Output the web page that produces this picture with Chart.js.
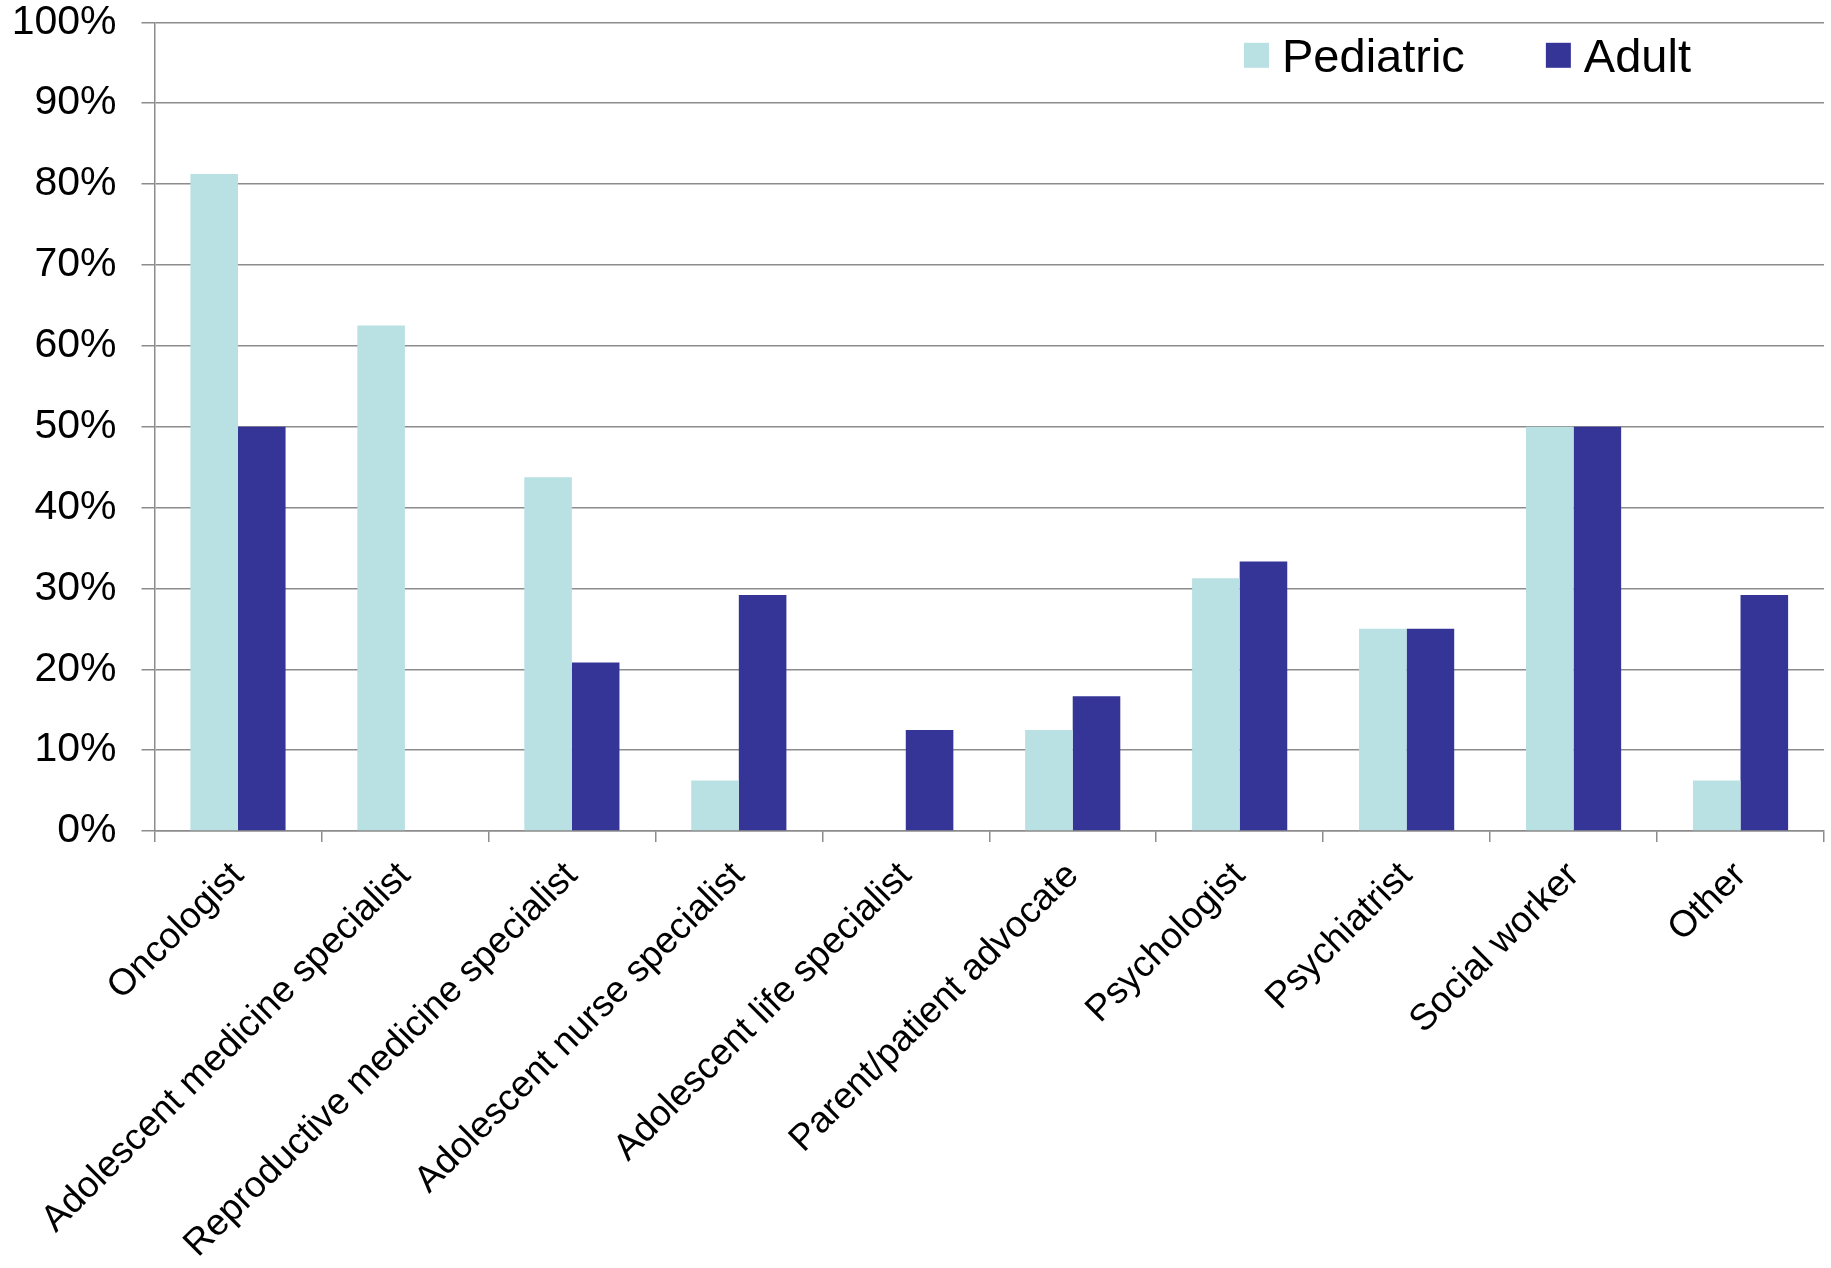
<!DOCTYPE html>
<html>
<head>
<meta charset="utf-8">
<script src="https://cdn.jsdelivr.net/npm/chart.js@4.4.1/dist/chart.umd.min.js"></script>
<style>
  html, body { margin: 0; padding: 0; background: #ffffff; }
  #wrap { width: 1831px; height: 1268px; position: relative; }
</style>
</head>
<body>
<div id="wrap"><canvas id="chart" width="1831" height="1268"></canvas></div>
<script>
// Team members involved, by care setting (share of respondents)
const categories = [
  'Oncologist',
  'Adolescent medicine specialist',
  'Reproductive medicine specialist',
  'Adolescent nurse specialist',
  'Adolescent life specialist',
  'Parent/patient advocate',
  'Psychologist',
  'Psychiatrist',
  'Social worker',
  'Other'
];
const pediatric = [81.25, 62.5, 43.75, 6.25, 0, 12.5, 31.25, 25, 50, 6.25];
const adult     = [50, 0, 20.83, 29.17, 12.5, 16.67, 33.33, 25, 50, 29.17];
const seriesNames = ['Pediatric', 'Adult'];
const yTicks = [0, 10, 20, 30, 40, 50, 60, 70, 80, 90, 100];

const FONT = '"Liberation Sans", Arial, Helvetica, sans-serif';
const GRID = '#8c8c8c';

// Legend drawn inside the plot area, near its top right
const insideLegend = {
  id: 'insideLegend',
  afterDraw(chart) {
    const ctx = chart.ctx;
    const area = chart.chartArea;
    let x = area.left + 1089.5;
    const top = area.top + 20.5;
    ctx.save();
    ctx.font = '47px ' + FONT;
    ctx.textBaseline = 'alphabetic';
    chart.data.datasets.forEach((ds) => {
      ctx.fillStyle = ds.backgroundColor;
      ctx.fillRect(x, top, 25, 25);
      const tx = x + 38;
      ctx.fillStyle = '#000000';
      ctx.fillText(ds.label, tx, top + 29.5);
      x = tx + ctx.measureText(ds.label).width + 81;
    });
    ctx.restore();
  }
};

new Chart(document.getElementById('chart'), {
  type: 'bar',
  data: {
    labels: categories,
    datasets: [
      { label: seriesNames[0], data: pediatric, backgroundColor: '#b9e0e3' },
      { label: seriesNames[1], data: adult, backgroundColor: '#353598' }
    ]
  },
  options: {
    responsive: false,
    animation: false,
    devicePixelRatio: 1,
    layout: { padding: { top: 0, right: 7, left: 0, bottom: 0 } },
    datasets: {
      bar: { categoryPercentage: 0.57, barPercentage: 1.0, borderWidth: 0 }
    },
    plugins: {
      legend: { display: false },
      tooltip: { enabled: false }
    },
    scales: {
      x: {
        offset: true,
        grid: {
          offset: true,
          drawOnChartArea: false,
          drawTicks: true,
          tickLength: 11,
          color: GRID,
          lineWidth: 1.5
        },
        border: { display: true, color: GRID, width: 1.5 },
        ticks: {
          color: '#000000',
          font: { family: FONT, size: 37 },
          minRotation: 45,
          maxRotation: 45,
          padding: 12,
          autoSkip: false
        },
        afterFit(scale) { scale.height = 437; }
      },
      y: {
        min: 0,
        max: 100,
        afterBuildTicks(scale) {
          scale.ticks = yTicks.map(v => ({ value: v }));
        },
        grid: {
          color: GRID,
          lineWidth: 1.5,
          drawTicks: true,
          tickLength: 13
        },
        border: { display: true, color: GRID, width: 1.5 },
        ticks: {
          color: '#000000',
          font: { family: FONT, size: 41 },
          padding: 25,
          callback: (v) => v + '%'
        },
        afterFit(scale) {
          scale.width = 154.5;
          // keep only half a label of room above the top tick
          scale.paddingTop = 22.3;
          scale.paddingBottom = 0;
        }
      }
    }
  },
  plugins: [insideLegend]
});
</script>
</body>
</html>
